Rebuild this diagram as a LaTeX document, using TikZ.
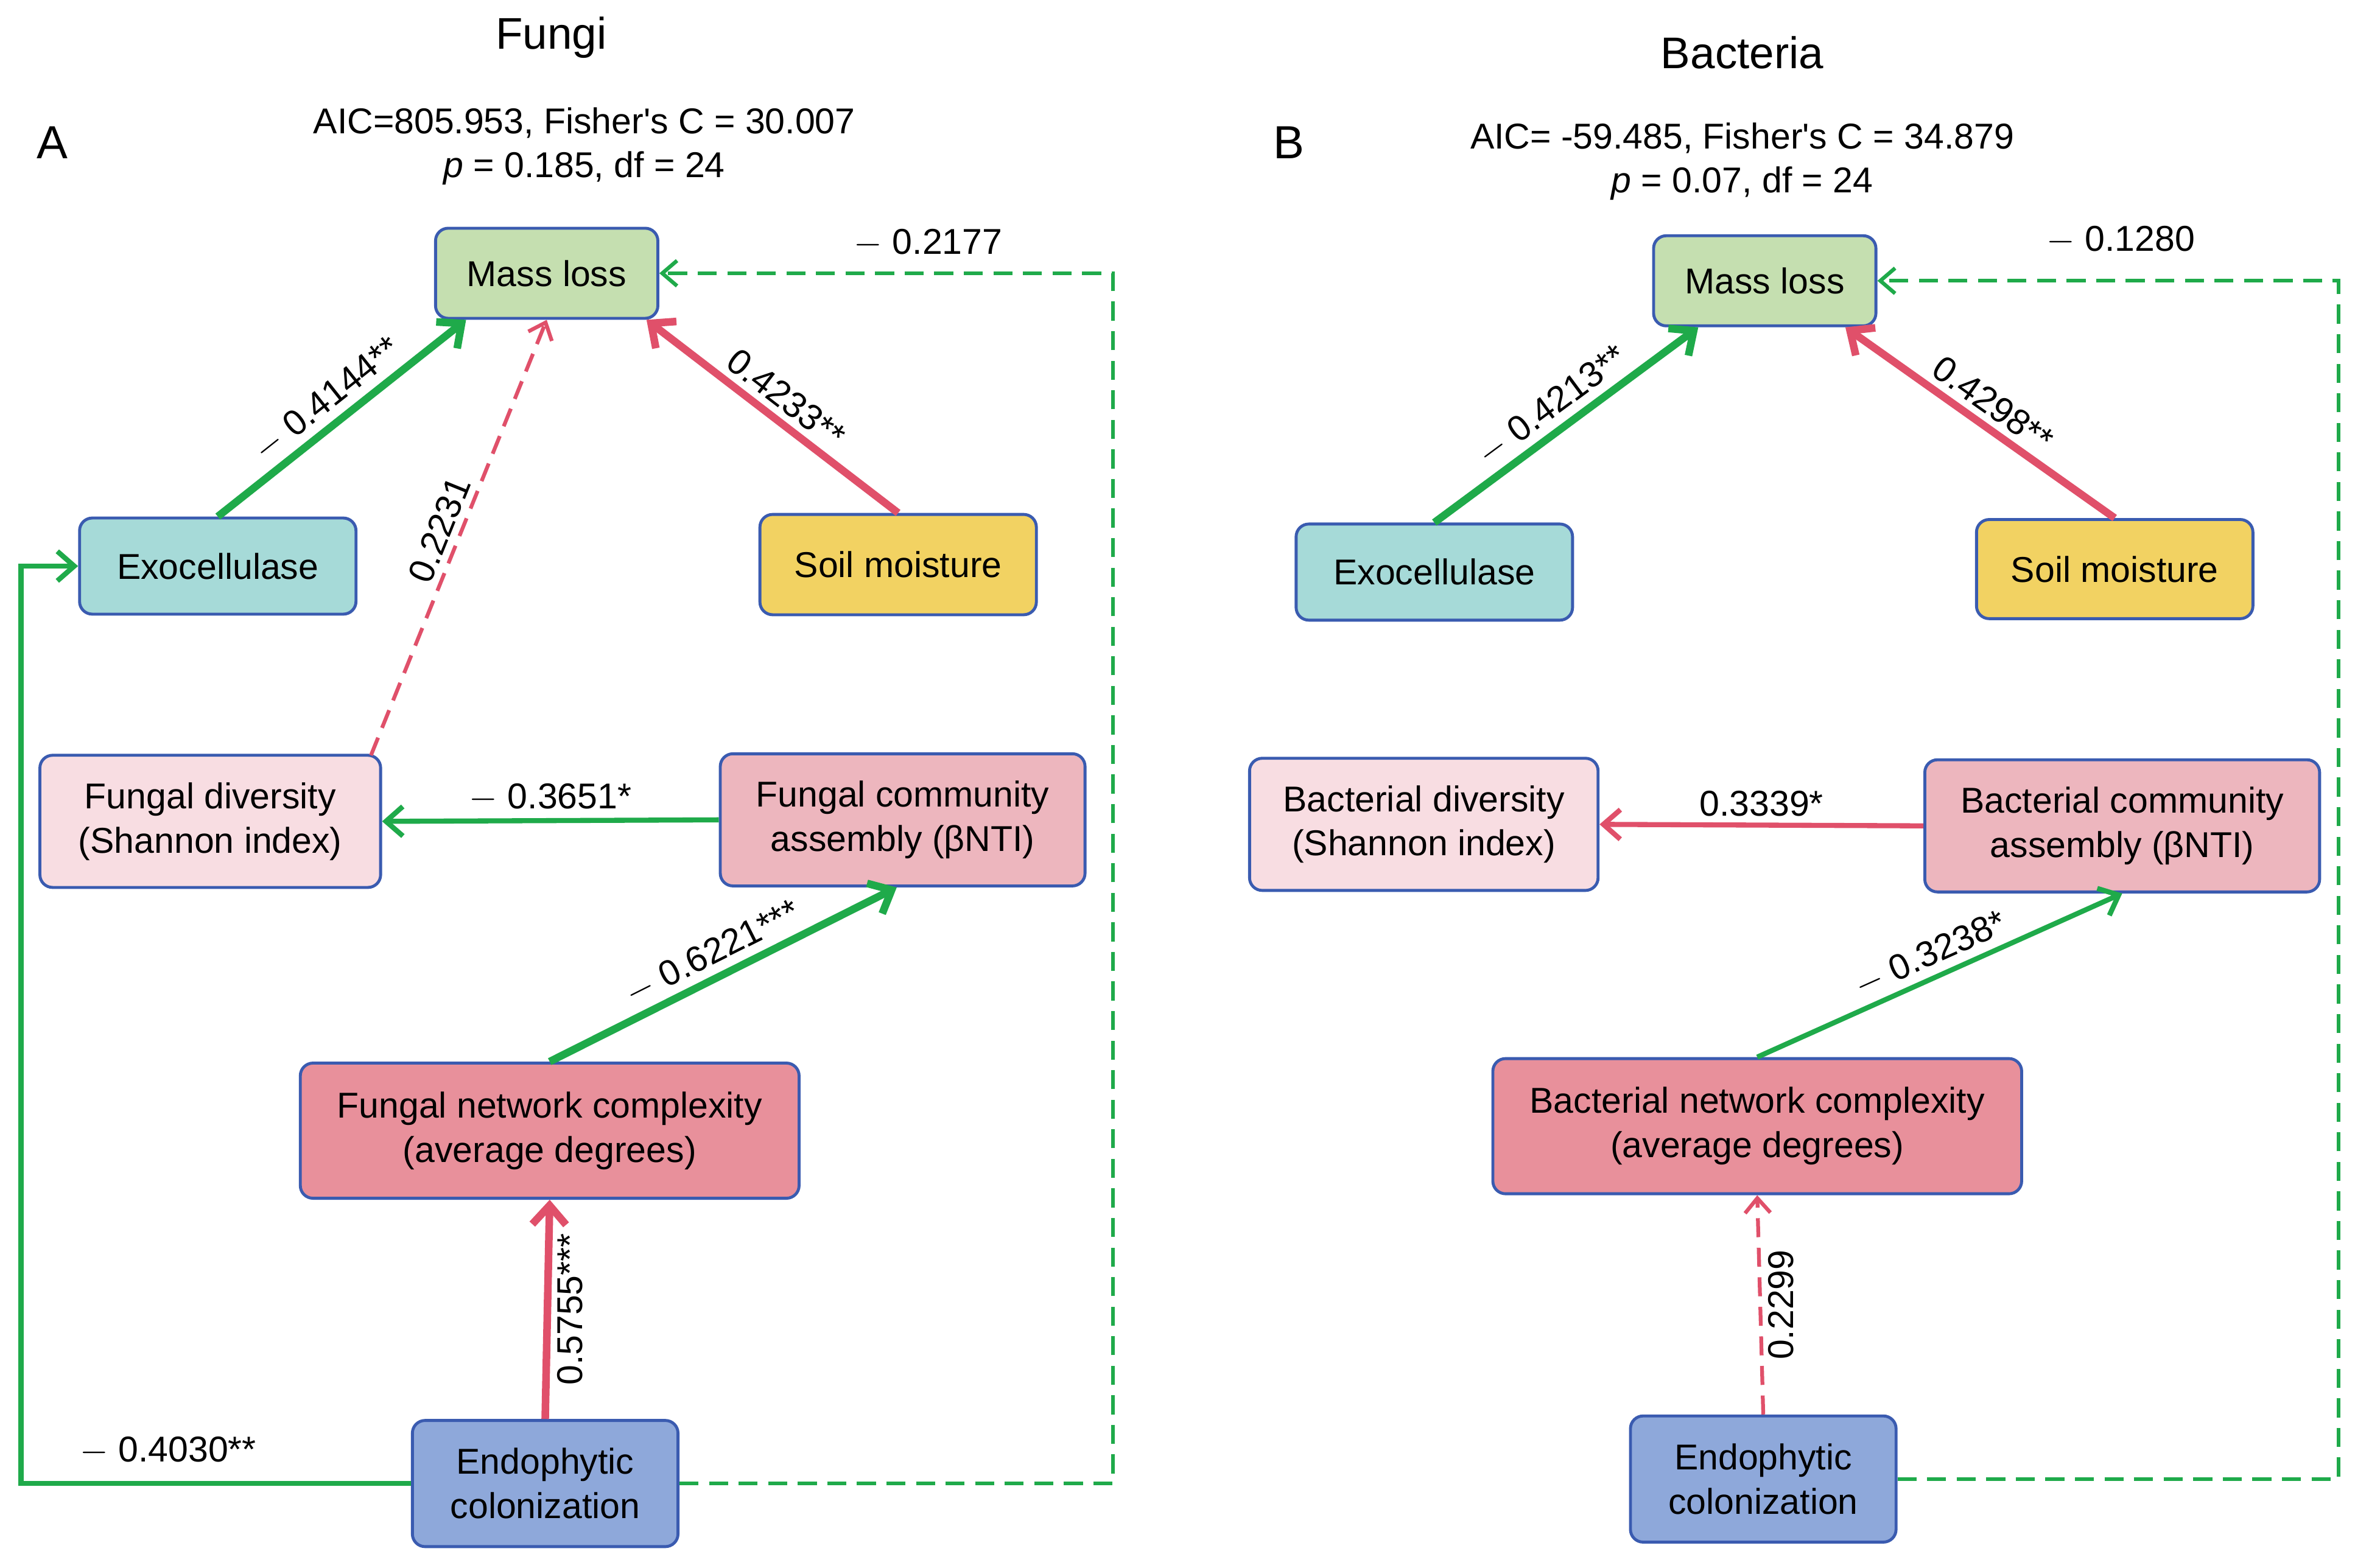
\documentclass[tikz,border=0pt]{standalone}
\usepackage{fontspec}
\setmainfont{Liberation Sans}
\usetikzlibrary{arrows.meta}
\definecolor{gr}{HTML}{1FAA4A}
\definecolor{rd}{HTML}{E0506A}
\definecolor{bd}{HTML}{3A5BB0}
\definecolor{cmass}{HTML}{C5DFB0}
\definecolor{cexo}{HTML}{A6DAD8}
\definecolor{csoil}{HTML}{F2D262}
\definecolor{cdiv}{HTML}{F8DDE2}
\definecolor{ccom}{HTML}{EDB6BE}
\definecolor{cnet}{HTML}{E8909B}
\definecolor{cendo}{HTML}{8EA8DA}
\begin{document}
\begin{tikzpicture}[x=0.025cm,y=-0.025cm,
  box/.style={draw=bd,line width=1.4pt,rounded corners=6pt,align=center,font=\fontsize{17}{21}\selectfont,inner sep=2pt},
  lab/.style={font=\fontsize{17}{21}\selectfont,inner sep=3pt,text=black},
  thk/.style={line width=3.6pt,-{Straight Barb[length=9pt,width=16pt,line width=3.6pt]}},
  thn/.style={line width=2.4pt,-{Straight Barb[length=8pt,width=14pt,line width=2.4pt]}},
  dsh/.style={line width=1.8pt,dash pattern=on 9pt off 5pt,-{Straight Barb[length=7pt,width=12pt,line width=1.8pt]}}]
\useasboundingbox (0,0) rectangle (1568,1044);
\fill[white] (0,0) rectangle (1568,1044);
% titles
\node[font=\fontsize{21}{25}\selectfont] (tA) at (367,25) {Fungi};
\node[font=\fontsize{21}{25}\selectfont] (tB) at (1160,35) {Bacteria};
\node[font=\fontsize{22}{26}\selectfont] (lA) at (35,95) {A};
\node[font=\fontsize{22}{26}\selectfont] (lB) at (858,95) {B};
\node[lab] (sA1) at (389,82) {AIC=805.953, Fisher\textquotesingle s C = 30.007};
\node[lab] (sA2) at (389,112) {\textit{p} = 0.185, df = 24};
\node[lab] (sB1) at (1160,92) {AIC= -59.485, Fisher\textquotesingle s C = 34.879};
\node[lab] (sB2) at (1160,122) {\textit{p} = 0.07, df = 24};
% A nodes
\node[box,fill=cmass,minimum width=3.7cm,minimum height=1.5cm] (amass) at (364,182) {Mass loss};
\node[box,fill=cexo,minimum width=4.6cm,minimum height=1.6cm] (aexo) at (145,377) {Exocellulase};
\node[box,fill=csoil,minimum width=4.6cm,minimum height=1.67cm] (asoil) at (598,376) {Soil moisture};
\node[box,fill=cdiv,minimum width=5.67cm,minimum height=2.2cm] (adiv) at (140,547) {Fungal diversity\\(Shannon index)};
\node[box,fill=ccom,minimum width=6.07cm,minimum height=2.2cm] (acom) at (601,546) {Fungal community\\assembly (βNTI)};
\node[box,fill=cnet,minimum width=8.3cm,minimum height=2.25cm] (anet) at (366,753) {Fungal network complexity\\(average degrees)};
\node[box,fill=cendo,minimum width=4.42cm,minimum height=2.1cm] (aendo) at (363,988) {Endophytic\\colonization};
% B nodes
\node[box,fill=cmass,minimum width=3.7cm,minimum height=1.5cm] (bmass) at (1175,187) {Mass loss};
\node[box,fill=cexo,minimum width=4.6cm,minimum height=1.6cm] (bexo) at (955,381) {Exocellulase};
\node[box,fill=csoil,minimum width=4.6cm,minimum height=1.65cm] (bsoil) at (1408,379) {Soil moisture};
\node[box,fill=cdiv,minimum width=5.8cm,minimum height=2.2cm] (bdiv) at (948,549) {Bacterial diversity\\(Shannon index)};
\node[box,fill=ccom,minimum width=6.57cm,minimum height=2.2cm] (bcom) at (1413,550) {Bacterial community\\assembly (βNTI)};
\node[box,fill=cnet,minimum width=8.8cm,minimum height=2.25cm] (bnet) at (1170,750) {Bacterial network complexity\\(average degrees)};
\node[box,fill=cendo,minimum width=4.42cm,minimum height=2.1cm] (bendo) at (1174,985) {Endophytic\\colonization};
% corner coordinates
\coordinate (a1) at (14,988); \coordinate (a2) at (14,377);
\coordinate (a3) at (741,988); \coordinate (a4) at (741,182);
\coordinate (b3) at (1557,985); \coordinate (b4) at (1557,187);
\coordinate (d0) at (247,503);
% A edges
\draw[thk,gr] (aexo.north) -- (amass.210) node[lab,midway,sloped,above] {$-$ 0.4144**};
\draw[thk,rd] (asoil.north) -- (amass.-25) node[lab,midway,sloped,above] {0.4233**};
\draw[dsh,rd] (d0) -- (amass.south) node[lab,pos=0.5,sloped,above] {0.2231};
\draw[thn,gr] (acom.west) -- (adiv.east) node[lab,midway,above] {$-$ 0.3651*};
\draw[thk,gr] (anet.north) -- (acom.-95) node[lab,midway,sloped,above] {$-$ 0.6221***};
\draw[thk,rd] (aendo.north) -- (anet.south) node[lab,midway,rotate=90,anchor=north] {0.5755***};
\draw[thn,gr] (aendo.west) -- (a1) -- (a2) -- (aexo.west);
\node[lab] (la) at (112,966) {$-$ 0.4030**};
\draw[dsh,gr] (aendo.east) -- (a3) -- (a4) -- (amass.east);
\node[lab] (lb) at (618,162) {$-$ 0.2177};
% B edges
\draw[thk,gr] (bexo.north) -- (bmass.215) node[lab,midway,sloped,above] {$-$ 0.4213**};
\draw[thk,rd] (bsoil.north) -- (bmass.-30) node[lab,midway,sloped,above] {0.4298**};
\draw[thn,rd] (bcom.west) -- (bdiv.east) node[lab,midway,above] {0.3339*};
\draw[thn,gr] (bnet.north) -- (bcom.south) node[lab,midway,sloped,above] {$-$ 0.3238*};
\draw[dsh,rd] (bendo.north) -- (bnet.south) node[lab,midway,rotate=90,anchor=north] {0.2299};
\draw[dsh,gr] (bendo.east) -- (b3) -- (b4) -- (bmass.east);
\node[lab] (lc) at (1412,160) {$-$ 0.1280};
\end{tikzpicture}
\end{document}
